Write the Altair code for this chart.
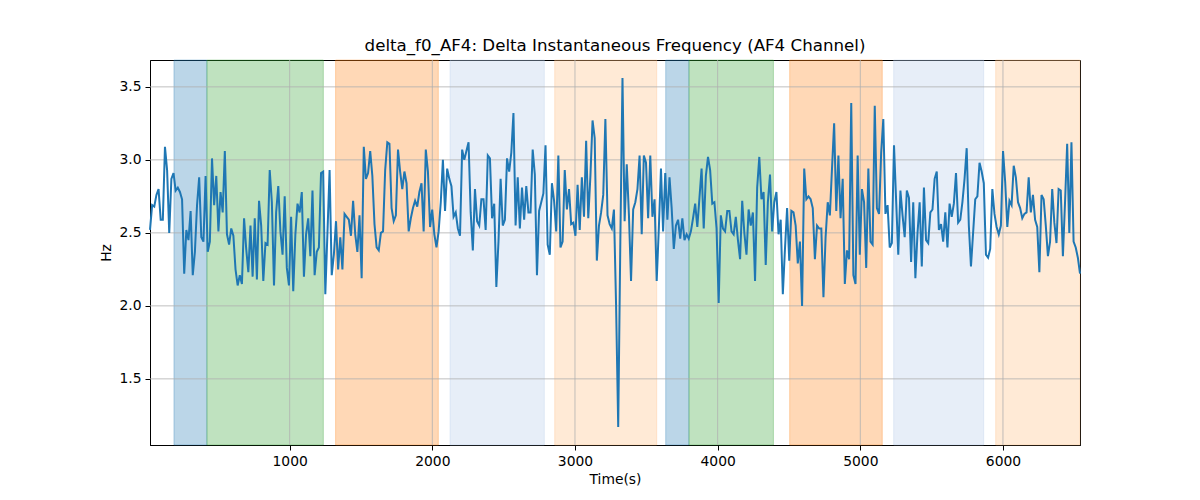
import altair as alt
import numpy as np
import pandas as pd

# ---- data ----
T_START = 21
T_END = 6540

seg1 = [2.52, 2.69, 2.68, 2.76, 2.80, 2.59, 2.59, 3.09, 2.93, 2.50,
        2.87, 2.91, 2.79, 2.81, 2.78, 2.73, 2.22, 2.52, 2.45, 2.65,
        2.21, 2.37, 2.69, 2.88, 2.47, 2.44, 2.89, 2.37, 2.44, 3.01,
        2.69, 2.89, 2.51, 2.78, 2.64, 3.06, 2.49, 2.42, 2.53, 2.48,
        2.25, 2.14, 2.21, 2.15, 2.60, 2.39, 2.23, 2.55, 2.20, 2.60,
        2.18, 2.72, 2.55, 2.17, 2.43, 2.42]
seg2 = [2.93, 2.71, 2.14, 2.64, 2.82, 2.51, 2.35, 2.75, 2.26, 2.14,
        2.61, 2.10, 2.49, 2.70, 2.64, 2.78, 2.20, 2.49, 2.60, 2.34,
        2.79, 2.21, 2.37, 2.40, 2.91, 2.92, 2.08, 2.50, 2.93, 2.21,
        2.35, 2.58, 2.25, 2.47, 2.25, 2.63, 2.61, 2.59, 2.48, 2.72,
        2.49, 2.37, 2.62, 2.19, 3.09, 2.87, 2.91, 3.06, 2.89, 2.56,
        2.40, 2.38, 2.50, 2.51, 2.93, 3.12]
seg3 = [3.11, 2.67, 2.58, 2.62, 3.07, 2.92, 2.80, 2.92, 2.84, 2.51, 2.60,
        2.67, 2.72, 2.68, 2.78, 2.84, 2.51, 3.07, 2.92, 2.54, 2.66,
        2.49, 2.40, 2.51, 2.71, 3.00, 2.65, 2.94, 2.87, 2.82, 2.61,
        2.64, 2.53, 2.48, 3.07, 3.00, 3.06, 3.12, 2.64, 2.38, 2.80,
        2.58, 2.55, 2.73, 2.73, 2.52, 3.03, 3.01, 2.60, 2.70, 2.13,
        2.44, 2.87, 2.55, 2.59, 3.01]
seg4 = [2.92, 3.05, 3.32, 2.55, 2.88, 2.53, 2.81, 2.59, 2.82, 2.64,
        2.64, 3.07, 2.90, 2.21, 2.65, 2.71, 2.77, 3.10, 2.42, 2.35,
        2.84, 2.72, 2.51, 3.03, 2.40, 2.44, 2.93, 2.66, 2.80, 2.56,
        2.57, 2.48, 2.83, 2.52, 2.88, 2.61, 3.13, 2.60, 2.89, 3.27,
        3.15, 2.31, 2.55, 2.64, 2.76, 3.28, 2.62, 2.56, 2.53, 2.66,
        2.01, 1.17, 2.45, 3.56, 2.58, 2.97]
seg5 = [2.63, 2.17, 2.66, 2.71, 2.80, 3.03, 2.49, 3.03, 2.98, 2.60,
        3.03, 2.61, 2.73, 2.17, 2.53, 2.94, 2.51, 2.91, 2.59, 2.88,
        2.67, 2.39, 2.55, 2.59, 2.46, 2.60, 2.45, 2.49, 2.46, 2.51,
        2.60, 2.70, 2.54, 2.74, 2.94, 2.53, 2.89, 3.02, 2.93, 2.70,
        2.71, 2.53, 2.02, 2.62, 2.53, 2.51, 2.65, 2.65, 2.51, 2.49,
        2.61, 2.45, 2.32, 2.72, 2.50, 2.35]
seg6 = [2.66, 2.55, 2.64, 2.17, 2.81, 3.02, 2.73, 2.78, 2.28, 2.71,
        2.90, 2.51, 2.71, 2.78, 2.49, 2.59, 2.08, 2.39, 2.67, 2.31,
        2.65, 2.64, 2.55, 2.29, 2.44, 2.00, 2.94, 2.73, 2.75, 2.73,
        2.67, 2.32, 2.55, 2.53, 2.53, 2.06, 2.47, 2.71, 2.62, 2.94,
        3.25, 2.65, 3.03, 2.60, 2.87, 2.15, 2.38, 2.32, 3.39, 2.21,
        2.15, 3.03, 2.35, 2.80, 2.71, 2.26]
seg7 = [2.94, 2.44, 2.42, 3.37, 2.67, 2.63, 3.05, 3.28, 2.63, 2.69,
        2.40, 2.43, 3.10, 2.72, 2.35, 2.79, 2.62, 2.47, 2.79, 2.74,
        2.30, 2.71, 2.19, 2.50, 2.71, 2.27, 2.81, 2.45, 2.43, 2.64,
        2.66, 2.87, 2.92, 2.52, 2.56, 2.44, 2.64, 2.40, 2.70, 2.61,
        2.70, 2.91, 2.57, 2.59, 2.71, 2.87, 3.08, 2.55, 2.27, 2.50,
        2.73, 2.75, 2.98, 2.92, 2.84]
seg8 = [2.35, 2.33, 2.39, 2.80, 2.63, 2.54, 2.49, 2.55, 3.06, 2.85,
        2.54, 2.72, 2.69, 2.96, 2.88, 2.71, 2.67, 2.60, 2.63, 2.64,
        2.88, 2.64, 2.76, 2.59, 2.54, 2.23, 2.76, 2.73, 2.55, 2.34,
        2.44, 2.80, 2.57, 2.43, 2.80, 2.79, 2.34, 2.71, 3.11, 2.50,
        3.12, 2.44, 2.40, 2.33, 2.22]

span_start = [189, 420, 1322, 2124, 2858, 3636, 3799, 4505, 5234, 5949]
span_end = [420, 1236, 2042, 2785, 3573, 3799, 4391, 5154, 5865, 6540]
span_color = ["#1f77b4", "#2ca02c", "#ff7f0e", "#aec7e8", "#ffbb78",
              "#1f77b4", "#2ca02c", "#ff7f0e", "#aec7e8", "#ffbb78"]

x_ticks = [1000, 2000, 3000, 4000, 5000, 6000]
y_ticks = [1.5, 2.0, 2.5, 3.0, 3.5]

X_DOMAIN = [T_START, T_END]
Y_DOMAIN = [1.047, 3.684]

TITLE = "delta_f0_AF4: Delta Instantaneous Frequency (AF4 Channel)"

# ---- tables ----
values = seg1 + seg2 + seg3 + seg4 + seg5 + seg6 + seg7 + seg8
times = np.linspace(T_START, T_END, len(values))
line_df = pd.DataFrame({"t": times, "v": values})
span_df = pd.DataFrame({"s": span_start, "e": span_end, "c": span_color})
xg_df = pd.DataFrame({"x": x_ticks})
yg_df = pd.DataFrame({"y": y_ticks})

FONT = "DejaVu Sans"
xscale = alt.Scale(domain=X_DOMAIN, nice=False, zero=False)
yscale = alt.Scale(domain=Y_DOMAIN, nice=False, zero=False)

spans = alt.Chart(span_df).mark_rect(
    fillOpacity=0.3, strokeOpacity=0.3, strokeWidth=1
).encode(
    x=alt.X("s:Q", scale=xscale),
    x2="e:Q",
    fill=alt.Fill("c:N", scale=None),
    stroke=alt.Stroke("c:N", scale=None),
)

xgrid = alt.Chart(xg_df).mark_rule(color="#b0b0b0", strokeWidth=0.8).encode(
    x=alt.X("x:Q", scale=xscale)
)
ygrid = alt.Chart(yg_df).mark_rule(color="#b0b0b0", strokeWidth=0.8).encode(
    y=alt.Y("y:Q", scale=yscale)
)

line = alt.Chart(line_df).mark_line(color="#1f77b4", strokeWidth=2).encode(
    x=alt.X("t:Q", scale=xscale,
            axis=alt.Axis(title="Time(s)", values=x_ticks, format="d",
                          grid=False)),
    y=alt.Y("v:Q", scale=yscale,
            axis=alt.Axis(title="Hz", values=y_ticks, format=".1f",
                          grid=False)),
)

chart = alt.layer(spans, xgrid, ygrid, line).properties(
    width=930,
    height=385,
    padding={"left": 142, "top": 52, "right": 112, "bottom": 47},
    autosize=alt.AutoSizeParams(type="none"),
    title=alt.TitleParams(TITLE, font=FONT, fontSize=16.67, fontWeight="normal",
                          color="black", anchor="middle", offset=5),
).configure_view(
    stroke="black", strokeWidth=1
).configure_axis(
    domainColor="black", domainWidth=1, tickColor="black", tickSize=5,
    tickWidth=1, labelFont=FONT, labelFontSize=13.89, labelColor="black",
    titleFont=FONT, titleFontSize=13.89, titleFontWeight="normal",
    titleColor="black", labelPadding=4, titlePadding=5,
).configure_axisX(labelFlush=False).configure_axisY(labelFlush=False)

chart.save("out.html", embed_options={"renderer": "svg", "actions": False})
